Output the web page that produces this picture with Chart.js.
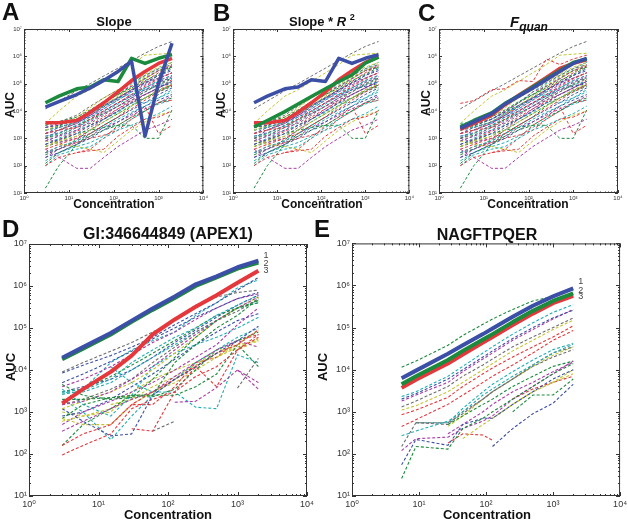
<!DOCTYPE html>
<html><head><meta charset="utf-8">
<script src="https://cdn.jsdelivr.net/npm/chart.js@4.4.1/dist/chart.umd.min.js"></script>
<style>
html,body{margin:0;padding:0;background:#fff;}
body{width:628px;height:521px;overflow:hidden;position:relative;font-family:"Liberation Sans",Arial,sans-serif;color:#111;}
canvas{position:absolute;}
.t{position:absolute;white-space:nowrap;line-height:1;transform:translate(-50%,-50%);font-weight:bold;z-index:5;}
.v{transform:translate(-50%,-50%) rotate(-90deg);}
.L{position:absolute;font-size:24px;font-weight:bold;line-height:1;z-index:5;}
sup,sub{font-size:70%;line-height:0;}
.fq sub{font-size:80%;}
</style></head>
<body>
<canvas id="cA"></canvas><canvas id="cB"></canvas><canvas id="cC"></canvas>
<canvas id="cD"></canvas><canvas id="cE"></canvas>

<div class="L" style="left:2px;top:0px">A</div>
<div class="L" style="left:213px;top:1px">B</div>
<div class="L" style="left:418px;top:1px">C</div>
<div class="L" style="left:2px;top:217px">D</div>
<div class="L" style="left:314px;top:217px">E</div>

<div class="t" style="left:114px;top:21px;font-size:13px">Slope</div>
<div class="t" style="left:322px;top:21px;font-size:13px">Slope * <i>R</i> <sup>2</sup></div>
<div class="t fq" style="left:529px;top:21px;font-size:15px"><i>F<sub>quan</sub></i></div>
<div class="t" style="left:168px;top:234px;font-size:16px">GI:346644849 (APEX1)</div>
<div class="t" style="left:487px;top:235px;font-size:16px">NAGFTPQER</div>

<div class="t" style="left:114px;top:204px;font-size:12px">Concentration</div>
<div class="t" style="left:322px;top:204px;font-size:12px">Concentration</div>
<div class="t" style="left:528px;top:204px;font-size:12px">Concentration</div>
<div class="t" style="left:168px;top:514px;font-size:13px">Concentration</div>
<div class="t" style="left:487px;top:514px;font-size:13px">Concentration</div>

<div class="t v" style="left:10px;top:105px;font-size:12px">AUC</div>
<div class="t v" style="left:221px;top:105px;font-size:12px">AUC</div>
<div class="t v" style="left:426px;top:103px;font-size:12px">AUC</div>
<div class="t v" style="left:10px;top:367px;font-size:13px">AUC</div>
<div class="t v" style="left:322px;top:367px;font-size:13px">AUC</div>

<script>
// ---------------- DATA ----------------
const X_ABC = [3, 6, 15, 30, 60, 125, 250, 500, 1000, 2000];
const X_D = [3, 6, 15, 30, 60, 125, 250, 500, 1000, 2000];
const X_E = [5.5, 9, 27, 45, 90, 125, 250, 500, 1000, 2000];
const X_TICKS = [1, 10, 100, 1000, 10000];
const X_TICK_LABELS = ['10⁰', '10¹', '10²', '10³', '10⁴'];
const Y_TICKS = [10, 100, 1e3, 1e4, 1e5, 1e6, 1e7];
const Y_TICK_LABELS = ['10¹', '10²', '10³', '10⁴', '10⁵', '10⁶', '10⁷'];

// thick (ranked) lines, panels A-C
const A_RED   = [3.7e3, 3.7e3, 4.5e3, 9e3, 2e4, 5e4, 1.3e5, 2.8e5, 5.5e5, 8.5e5];
const A_GREEN = [2e4, 3.5e4, 6.5e4, 7.5e4, 1.4e5, 1.2e5, 8.5e5, 5.5e5, 8.5e5, 1.15e6];
const A_BLUE  = [1.4e4, 2.2e4, 4e4, 7e4, 1.3e5, 2.8e5, 6.5e5, 1.2e3, 1e5, 3e6];
const B_RED   = [3.7e3, 3.7e3, 4.5e3, 9e3, 2e4, 5e4, 1.4e5, 3e5, 6e5, 9.5e5];
const B_GREEN = [2.6e3, 4.5e3, 9.5e3, 1.8e4, 3.4e4, 6.5e4, 1.2e5, 2.1e5, 5.6e5, 9.3e5];
const B_BLUE  = [2e4, 3.5e4, 6.5e4, 7.5e4, 1.4e5, 1.2e5, 8.5e5, 5.5e5, 8.5e5, 1.15e6];
const C_RED   = [2.1e3, 3.5e3, 7e3, 1.7e4, 3.8e4, 8e4, 1.7e5, 3.6e5, 5.5e5, 7.5e5];
const C_GREEN = [2.6e3, 4.5e3, 8.5e3, 1.9e4, 3.6e4, 7.5e4, 1.5e5, 3e5, 6e5, 8e5];
const C_BLUE  = [2.3e3, 4e3, 8e3, 1.8e4, 3.5e4, 7e4, 1.4e5, 2.8e5, 5.5e5, 8.5e5];
const C_EXTRA = [['r', [1.9e4, 2.4e4, 6e4, 6.5e4, 1.3e5, 1.2e5, 8e5, 5e5, 8e5, 1.1e6]]];

// background peptides shared by A-C
const ABC_DASHED = [
  ['b', [2.5e3, 3e3, 5e3, 9e3, 1.6e4, 3e4, 6e4, 1e5, 2e5, 3e5]],
  ['g', [3e3, 4e3, 6e3, 1.1e4, 2.2e4, 4e4, 7e4, 1.3e5, 2.2e5, 4e5]],
  ['r', [1.5e3, 2e3, 2.5e3, 5e3, 1e4, 2e4, 4e4, 8e4, 1.5e5, 2.5e5]],
  ['c', [1.2e3, 1.5e3, 3e3, 6e3, 1.2e4, 2.5e4, 5e4, 7e4, 1.3e5, 2e5]],
  ['m', [8e2, 1.2e3, 2e3, 4e3, 8e3, 1.5e4, 3e4, 6e4, 1.1e5, 1.8e5]],
  ['y', [2e3, 3e3, 6e3, 1.3e4, 3e4, 6e4, 1.2e5, 2.2e5, 4e5, 6e5]],
  ['k', [1e3, 1.3e3, 2.5e3, 3.5e3, 7e3, 1.5e4, 2.5e4, 5e4, 9e4, 1.5e5]],
  ['b', [6e2, 9e2, 1.5e3, 3e3, 5e3, 1e4, 2e4, 4e4, 7e4, 1.2e5]],
  ['g', [1e3, 1.5e3, 3e3, 5e3, 8e3, 1.5e4, 3e4, 5e4, 1e5, 1.6e5]],
  ['r', [4e2, 6e2, 1e3, 1.5e3, 3e3, 6e3, 1.2e4, 2.5e4, 5e4, 9e4]],
  ['c', [3e2, 5e2, 8e2, 1.5e3, 2.5e3, 5e3, 9e3, 1.5e4, 3e4, 5e4]],
  ['m', [1.5e3, 2e3, 3.5e3, 7e3, 1.2e4, 2.5e4, 5e4, 9e4, 1.6e5, 2.5e5]],
  ['y', [5e2, 8e2, 1.2e3, 2e3, 4e3, 8e3, 1.5e4, 3e4, 6e4, 1e5]],
  ['k', [3e3, 4e3, 7e3, 1.5e4, 3e4, 6e4, 1.1e5, 2e5, 3.5e5, 5e5]],
  ['b', [2e2, 3e2, 6e2, 1e3, 2e3, 4e3, 8e3, 1.5e4, 2.5e4, 4e4]],
  ['g', [1.2e2, 3e2, 6e2, 1.2e3, 2e3, 3e3, 6e3, 1e4, 2e4, 3e4]],
  ['r', [1e2, 2e2, 3e2, 3.5e2, 4e2, 1.2e3, 2.5e3, 5e3, 6e3, 1e4]],
  ['c', [1e2, 2.5e2, 4e2, 5e2, 1e3, 2e3, 3e3, 5e3, 8e3, 1.5e4]],
  ['m', [4e2, 2e2, 8e1, 8e1, 2e2, 5e2, 1e3, 2e3, 3e3, 5e3]],
  ['y', [8e2, 6e2, 5e2, 4e2, 3e2, 8e2, 2e3, 4e3, 7e3, 1e4]],
  ['g', [1.5e1, 1e2, 6e2, 1.5e3, 3e3, 6e3, 1.5e4, 3e4, 5e4, 8e4]],
  ['g', [5e2, 8e2, 1.5e3, 2e3, 2.5e3, 3e3, 3e3, 1e3, 1e3, 1.1e4]],
  ['k', [1.2e4, 2.3e4, 5.5e4, 1e5, 1.9e5, 3.7e5, 7e5, 1.3e6, 2.3e6, 3.5e6]],
  ['y', [3.5e3, 1e4, 3.5e4, 6e4, 1.2e5, 2.5e5, 5e5, 1.1e6, 1.2e6, 1.3e6]],
  ['c', [2e3, 2.5e3, 4e3, 8e3, 1.5e4, 3e4, 4e4, 6e4, 9e4, 1.2e5]],
  ['m', [2.5e3, 3.5e3, 5e3, 1e4, 2e4, 5e4, 8e4, 1.5e5, 3e5, 4.5e5]],
  ['b', [1.5e3, 2.5e3, 4e3, 6e3, 1e4, 2e4, 3.5e4, 6e4, 8e4, 1e5]],
  ['r', [3e2, 5e2, 7e2, 1e3, 1.3e3, 2e3, 5e3, 1e4, 2e4, 2.5e4]],
  ['c', [6e2, 1e3, 2e3, 3e3, 5e3, 9e3, 2e4, 2e4, 3e4, 6e4]],
  ['m', [2e2, 4e2, 7e2, 1.2e3, 2.5e3, 4e3, 7e3, 1.2e4, 2e4, 3.5e4]],
  ['y', [1.5e3, 2e3, 4e3, 8e3, 1.6e4, 3.5e4, 7e4, 1.5e5, 3e5, 5e5]],
  ['g', [2e3, 2.8e3, 5e3, 1e4, 2e4, 4e4, 8e4, 1.6e5, 3e5, 4e5]],
  ['c', [3.5e3, 4e3, 5e3, 9e3, 2e4, 5e4, 1e5, 2e5, 3.5e5, 6e5]],
  ['r', [null, null, 3e2, 4e2, 1e3, 3e3, 6e3, 1.5e4, 1.5e3, 3e3]],
  ['b', [1e3, 2e3, 3.5e3, 7e3, 1.4e4, 2.8e4, 5.5e4, 1.1e5, 2e5, 3.5e5]],
  ['r', [2e3, 2.5e3, 4e3, 7e3, 1.5e4, 3e4, 6e4, 1.2e5, 2.5e5, 4.5e5]],
  ['k', [5e2, 7e2, 1.2e3, 2.5e3, 5e3, 1e4, 2e4, 3e4, 6e4, 9e4]],
  ['c', [8e2, 1.2e3, 2.5e3, 4.5e3, 9e3, 1.8e4, 3.5e4, 7e4, 1.2e5, 1.6e5]],
  ['m', [1e3, 7e2, 1e3, 2e3, 5e3, 1.2e4, 2.5e4, 4e4, 7e4, 1.2e5]],
  ['g', [2.5e2, 4e2, 9e2, 2e3, 4e3, 8e3, 1.6e4, 3e4, 5.5e4, 9e4]],
  ['y', [2.5e3, 3e3, 5e3, 9e3, 2e4, 4e4, 9e4, 1.8e5, 3e5, 4e5]],
  ['b', [3e2, 4e2, 8e2, 1.5e3, 3e3, 6e3, 1.1e4, 2e4, 4e4, 7e4]],
  ['r', [6e2, 9e2, 1.8e3, 3e3, 6e3, 1.2e4, 2.2e4, 4e4, 7e4, 1.4e5]],
  ['c', [1.5e2, 3e2, 5e2, 7e2, 1.2e3, 2.5e3, 5e3, 1e4, 1.8e4, 2.5e4]],
  ['k', [null, 2e3, 4e3, 8e3, 1.6e4, 3.2e4, 6e4, 1.1e5, 1.6e5, 2.5e5]],
  ['m', [1.2e3, 1.6e3, 2.8e3, 5e3, 1e4, 2e4, 4e4, 7e4, 1.3e5, 2e5]]
];

// panel D (GI:346644849, APEX1)
const D_BLUE  = [1.95e4, 3.5e4, 7.6e4, 1.5e5, 2.9e5, 5.6e5, 1.1e6, 1.7e6, 2.8e6, 4e6];
const D_GREEN = [1.8e4, 3.2e4, 7e4, 1.4e5, 2.7e5, 5.2e5, 1e6, 1.6e6, 2.6e6, 3.6e6];
const D_RED   = [1.6e3, 3.5e3, 9e3, 2.2e4, 7e4, 1.6e5, 3.2e5, 6e5, 1.2e6, 2.3e6];
const D_DASHED = [
  ['k', [9e3, 1.5e4, 2.8e4, 4.5e4, 8e4, 1.5e5, 3.5e5, 5.5e5, 7e5, 8e5]],
  ['b', [8.5e3, 1.3e4, 2.2e4, 3.5e4, 6e4, 1.2e5, 2.2e5, 4e5, 8e5, 1.6e6]],
  ['b', [5e3, 8e3, 1.6e4, 2.8e4, 5.5e4, 1e5, 1.8e5, 3e5, 5e5, 7e5]],
  ['m', [4e3, 6e3, 1.2e4, 2.3e4, 4.5e4, 8e4, 1.6e5, 3e5, 5e5, 6.5e5]],
  ['c', [3e3, 3.5e3, 1.5e4, 3e4, 5e4, 8e4, 2e5, 4e5, 9e5, 1.4e6]],
  ['c', [2.6e3, 3.3e3, 6e3, 1.5e4, 3e4, 6e4, 1e5, 2e5, 3.5e5, 6e5]],
  ['g', [4.5e3, 2.5e3, 2e3, 2.2e3, 6e3, 2e4, 6e4, 1.5e5, 3e5, 4e5]],
  ['g', [2e3, 2e3, 2.2e3, 2.5e3, 2.5e3, 1.5e4, 4e4, 1e5, 2e5, 5e5]],
  ['m', [1.5e3, 1.8e3, 3e3, 6e3, 1.2e4, 3e4, 7e4, 1.5e5, 3e5, 5.5e5]],
  ['y', [1.2e3, 1.8e3, 3e3, 5e3, 1e4, 2.5e4, 6e4, 1.5e5, 3e5, 5.5e5]],
  ['k', [1.5e3, 2e3, 3.5e3, 6e3, 1.5e4, 3.5e4, 8e4, 1.5e5, 2.5e5, 5e5]],
  ['c', [3.5e3, 1.5e3, 8e2, 2.5e3, 1.2e4, 2.5e4, 4e4, 6e4, 1e5, 1.8e5]],
  ['b', [1.2e3, 6e2, 2.7e2, 3e2, 2.5e3, 6e3, 1.2e4, 2.5e4, 5e4, 1.1e5]],
  ['r', [1.6e2, 3e2, 5e2, 1.5e3, 3e3, 6e3, 1.2e4, 2.5e4, 4e4, 9e4]],
  ['r', [9.5e1, 1.6e2, 3e2, 1.2e3, 2e3, 3e3, 7e3, 1.2e4, 3e4, 6e4]],
  ['m', [3.5e2, 6e2, 1.2e3, 2e3, 3e3, 7e3, 1.5e4, 3e4, 5e4, 3.5e4]],
  ['y', [7e2, 5e2, 5e2, 1.5e3, 3e3, 6e3, 1.2e4, 2.5e4, 4e4, 5e4]],
  ['g', [1.6e2, 5e2, 1.2e3, 2.5e3, 2.5e3, 2.5e3, 4e3, 8e3, 4e4, 1.2e4]],
  ['c', [2e3, 1e3, 2.2e2, 8e2, 2.5e3, 6e3, 1.5e4, 3e4, 6e4, 1e5]],
  ['r', [null, null, null, 4e2, 3.5e2, 3e3, 1.2e4, 4e3, 3e4, 7e4]],
  ['k', [null, null, null, null, 3.5e2, 6e2, null, null, null, null]],
  ['m', [null, null, null, null, null, 1.7e3, 1.8e3, 3.8e3, 1e4, 5e3]],
  ['k', [null, null, null, null, null, null, null, null, 3.7e3, 1.9e4]],
  ['c', [null, null, 1.2e4, 5e3, 3e3, 3e3, 1.3e3, 1.2e3, 2.3e4, 1.5e4]],
  ['y', [6e2, 8e2, 1.2e3, 2e3, 4e3, 7e3, 1.3e4, 3e4, 3e4, 5e4]],
  ['g', [7e2, 1.5e3, 2.2e3, 2.3e3, 2.3e3, 3.5e3, 1e4, 3e4, 5e4, 8e4]],
  ['m', [5e2, 1e3, 1.8e3, 3e3, 5e3, 1e4, 2e4, 4e4, 1.2e5, 3e5]],
  ['b', [8e2, 1e3, 2e3, 4e3, 8e3, 1.8e4, 4e4, 8e4, 1.5e5, 2.2e5]],
  ['y', [1e3, 8e2, 1e3, 3e3, 6e3, 1e4, 1.5e4, 2e4, 4e4, 9e4]],
  ['r', [null, null, 5e2, 1.5e3, 1.5e3, 4e3, 1.5e4, 2e4, 5e4, 7e4]],
  ['g', [3e3, 3.5e3, 7e3, 1.3e4, 2.5e4, 5e4, 1e5, 2e5, 3e5, 4.5e5]],
  ['m', [null, null, null, null, null, null, null, null, 1e4, 3.5e3]],
  ['c', [2.8e3, 3e3, 5e3, 1e4, 2e4, 4e4, 8e4, 1.5e5, 3e5, 4e5]],
  ['b', [3e3, 4e3, 6e3, 1e4, 2e4, 4.5e4, 9e4, 1.8e5, 3.5e5, 6e5]],
  ['y', [null, null, 1.5e3, 2e3, 3e3, 5e3, 1e4, 2e4, 3.5e4, 5.5e4]]
];

// panel E (NAGFTPQER)
const E_BLUE  = [6.3e3, 9.5e3, 2.4e4, 3.8e4, 7e4, 9.5e4, 1.8e5, 3.3e5, 5.5e5, 8.5e5];
const E_GREEN = [4.5e3, 7e3, 1.7e4, 2.8e4, 5.2e4, 7e4, 1.35e5, 2.5e5, 4.3e5, 6.5e5];
const E_RED   = [3.7e3, 5.8e3, 1.4e4, 2.3e4, 4.4e4, 6e4, 1.15e5, 2.15e5, 3.8e5, 5.7e5];
const E_DASHED = [
  ['g', [1.15e4, 1.6e4, 3.8e4, 6.5e4, 1.2e5, 1.6e5, 2.7e5, 4.3e5, 5.5e5, 8e5]],
  ['c', [2.3e3, 3e3, 7e3, 1.2e4, 2.5e4, 3.5e4, 7e4, 1.3e5, 2.3e5, 3.5e5]],
  ['b', [2e3, 2.7e3, 6e3, 1e4, 2e4, 2.8e4, 5.5e4, 1e5, 1.7e5, 2.6e5]],
  ['m', [1.8e3, 2.5e3, 5e3, 9e3, 1.8e4, 2.5e4, 5e4, 9e4, 1.6e5, 2.7e5]],
  ['k', [1.3e3, 1.8e3, 4e3, 7e3, 1.3e4, 1.8e4, 3.5e4, 6e4, 1e5, 1.7e5]],
  ['y', [1.1e3, 1.4e3, 3e3, 5e3, 1e4, 1.4e4, 2.8e4, 5e4, 9e4, 1.5e5]],
  ['r', [8.5e2, 1.1e3, 2.2e3, 4e3, 8e3, 1.1e4, 2e4, 3.5e4, 6e4, 1.1e5]],
  ['r', [4.5e2, 6.5e2, 1.5e3, 2.5e3, 5e3, 7e3, 1.3e4, 2.5e4, 5e4, 8.5e4]],
  ['c', [2.7e2, 3.5e2, 6e2, 1e3, 2.5e3, 3.5e3, 7e3, 1.3e4, 2.5e4, 4e4]],
  ['k', [1.5e2, 5.5e2, 5.5e2, 9e2, 2e3, 3e3, 6e3, 1.2e4, 2e4, 3e4]],
  ['g', [2.6e1, 1.5e2, 1.3e2, 4e2, 7e2, 1e3, 2e3, 4e3, 8e3, 1.4e4]],
  ['b', [5.5e1, 2.2e2, 1.6e2, 5e2, 7e2, 7e2, 1.5e3, 3e3, 6e3, 1e4]],
  ['m', [1.2e2, 2.3e2, 2.5e2, 4e2, 6e2, 8e2, 2e3, 4e3, 8e3, 1.6e4]],
  ['y', [null, null, null, 2.3e2, 5e2, 7e2, 1.5e3, 3e3, 5e3, 1e4]],
  ['r', [null, null, 1.8e2, 3e2, 2.8e2, 2.1e2, null, null, null, null]],
  ['b', [null, null, null, null, null, 1.5e2, 4e2, 9e2, 1.6e3, 4.5e3]],
  ['g', [null, null, null, null, null, null, 1e3, 2.5e3, 2.5e3, 6e3]],
  ['g', [null, null, 5e2, 8e2, 1.5e3, 2e3, 4e3, 7e3, 1.2e4, 1.6e4]],
  ['m', [null, null, 3e2, 5e2, 1e3, 1.5e3, 3e3, 5e3, 9e3, 1.5e4]],
  ['k', [null, 5.5e2, 5e2, 1e3, 2e3, 3e3, 6e3, 1.3e4, 2.5e4, 3.5e4]],
  ['c', [null, 5.5e2, 5.5e2, 1.2e3, 3e3, 4.5e3, 9e3, 1.7e4, 3e4, 4.2e4]],
  ['y', [null, null, 4.5e2, 8e2, 2e3, 3e3, 6e3, 1.2e4, 2.2e4, 3.5e4]],
  ['y', [null, null, null, null, null, 7e2, 1.5e3, 3e3, 5e3, 8e3]],
  ['r', [null, null, null, null, null, null, 2e3, 3.5e3, 5e3, 7e3]]
];

// ---------------- STYLE / LAYOUT ----------------
const COLORS = {b:'#3b4fa6', g:'#1b8a3d', r:'#e4383d', c:'#23aeb4', m:'#a93aa6', y:'#c4c434', k:'#6e6e70'};
const FAMILY = "'Liberation Sans', 'DejaVu Sans', Arial, sans-serif";

const boxPlugin = {
  id: 'matBox',
  afterDraw(chart, args, o) {
    const {ctx, chartArea: a, scales} = chart;
    const x = scales.x, y = scales.y;
    ctx.save();
    ctx.strokeStyle = '#333';
    ctx.lineWidth = 1;
    ctx.strokeRect(a.left + 0.5, a.top + 0.5, a.right - a.left - 1, a.bottom - a.top - 1);
    ctx.beginPath();
    for (let e = 0; e <= 4; e++) for (let m = 1; m <= 9; m++) {
      const v = m * Math.pow(10, e);
      if (v > 1e4) continue;
      const p = Math.round(x.getPixelForValue(v)) + 0.5;
      const L = m === 1 ? o.major : o.minor;
      ctx.moveTo(p, a.bottom); ctx.lineTo(p, a.bottom - L);
      ctx.moveTo(p, a.top); ctx.lineTo(p, a.top + L);
    }
    for (let e = 1; e <= 7; e++) for (let m = 1; m <= 9; m++) {
      const v = m * Math.pow(10, e);
      if (v > 1e7) continue;
      const p = Math.round(y.getPixelForValue(v)) + 0.5;
      const L = m === 1 ? o.major : o.minor;
      ctx.moveTo(a.left, p); ctx.lineTo(a.left + L, p);
      ctx.moveTo(a.right, p); ctx.lineTo(a.right - L, p);
    }
    ctx.stroke();
    ctx.restore();
  }
};

const endLabelPlugin = {
  id: 'endLabels',
  afterDatasetsDraw(chart) {
    const ctx = chart.ctx;
    ctx.save();
    ctx.fillStyle = '#444';
    ctx.font = "9px " + FAMILY;
    ctx.textAlign = 'left';
    ctx.textBaseline = 'middle';
    chart.data.datasets.forEach((ds, i) => {
      if (!ds.endLabel) return;
      const meta = chart.getDatasetMeta(i);
      const pt = meta.data[meta.data.length - 1];
      ctx.fillText(ds.endLabel, pt.x + 5, pt.y + ds.endDy);
    });
    ctx.restore();
  }
};

// thick: listed top-most first (Chart.js draws dataset 0 last, i.e. on top)
function makePanel(id, g, xs, dashed, thick, st) {
  const [cl, ct, cw, ch] = g.canvas;
  const [al, at, ar, ab] = g.area;
  const cv = document.getElementById(id);
  cv.width = cw; cv.height = ch;
  cv.style.left = cl + 'px'; cv.style.top = ct + 'px';
  cv.style.width = cw + 'px'; cv.style.height = ch + 'px';
  const padL = al - cl, padT = at - ct, padR = cl + cw - ar, padB = ct + ch - ab;
  const pts = vals => xs.map((x, i) => ({x: x, y: vals[i]}));
  const datasets = [];
  thick.forEach(t => datasets.push({
    data: pts(t.vals), borderColor: COLORS[t.c], borderWidth: st.thickW,
    pointRadius: 0, fill: false, endLabel: t.label, endDy: t.dy || 0, borderJoinStyle: 'round', borderCapStyle: 'butt'
  }));
  dashed.forEach(([c, vals]) => datasets.push({
    data: pts(vals), borderColor: COLORS[c], borderWidth: st.dashW, borderDash: st.dash,
    pointRadius: 0, fill: false
  }));
  const tickFont = {size: st.tickSize, family: FAMILY};
  new Chart(cv, {
    type: 'line',
    data: {datasets},
    plugins: [boxPlugin, endLabelPlugin],
    options: {
      responsive: false, animation: false, events: [], devicePixelRatio: 1,
      layout: {padding: {left: 0, top: padT, right: padR, bottom: 0}},
      plugins: {legend: {display: false}, tooltip: {enabled: false}, title: {display: false},
                matBox: {major: st.major, minor: st.minor}},
      elements: {line: {tension: 0}, point: {radius: 0}},
      scales: {
        x: {
          type: 'logarithmic', min: 1, max: 1e4,
          grid: {display: false, drawTicks: false}, border: {display: false},
          afterBuildTicks: s => { s.ticks = X_TICKS.map(v => ({value: v})); },
          afterFit: s => { s.height = padB; },
          ticks: {autoSkip: false, maxRotation: 0, minRotation: 0, padding: st.xPad, color: '#333', font: tickFont,
                  callback: (v, i) => X_TICK_LABELS[i]}
        },
        y: {
          type: 'logarithmic', min: 10, max: 1e7,
          grid: {display: false, drawTicks: false}, border: {display: false},
          afterBuildTicks: s => { s.ticks = Y_TICKS.map(v => ({value: v})); },
          afterFit: s => { s.width = padL; },
          ticks: {autoSkip: false, padding: st.yPad, color: '#333', font: tickFont,
                  callback: (v, i) => Y_TICK_LABELS[i]}
        }
      }
    }
  });
}

const SMALL = {dashW: 1, dash: [3, 2], thickW: 3.5, tickSize: 6, major: 3, minor: 1.5, xPad: 2, yPad: 2};
const LARGE = {dashW: 1.1, dash: [3, 2], thickW: 4, tickSize: 9, major: 4, minor: 2, xPad: 3, yPad: 2};

makePanel('cA', {canvas: [0, 20, 210, 190], area: [24, 29, 204, 193]}, X_ABC, ABC_DASHED,
  [{c: 'b', vals: A_BLUE}, {c: 'g', vals: A_GREEN}, {c: 'r', vals: A_RED}], SMALL);
makePanel('cB', {canvas: [210, 20, 206, 190], area: [233, 29, 412, 193]}, X_ABC, ABC_DASHED,
  [{c: 'b', vals: B_BLUE}, {c: 'g', vals: B_GREEN}, {c: 'r', vals: B_RED}], SMALL);
makePanel('cC', {canvas: [416, 20, 212, 190], area: [439, 29, 618, 193]}, X_ABC, C_EXTRA.concat(ABC_DASHED),
  [{c: 'b', vals: C_BLUE}, {c: 'g', vals: C_GREEN}, {c: 'r', vals: C_RED}], SMALL);
makePanel('cD', {canvas: [0, 236, 318, 282], area: [29, 244, 307, 496]}, X_D, D_DASHED,
  [{c: 'b', vals: D_BLUE, label: '1', dy: -5}, {c: 'g', vals: D_GREEN, label: '2', dy: 1}, {c: 'r', vals: D_RED, label: '3', dy: 0}], LARGE);
makePanel('cE', {canvas: [322, 236, 308, 282], area: [352, 243, 622, 496]}, X_E, E_DASHED,
  [{c: 'b', vals: E_BLUE, label: '1', dy: -7}, {c: 'g', vals: E_GREEN, label: '2', dy: -3}, {c: 'r', vals: E_RED, label: '3', dy: 1}], LARGE);
</script>
</body></html>
